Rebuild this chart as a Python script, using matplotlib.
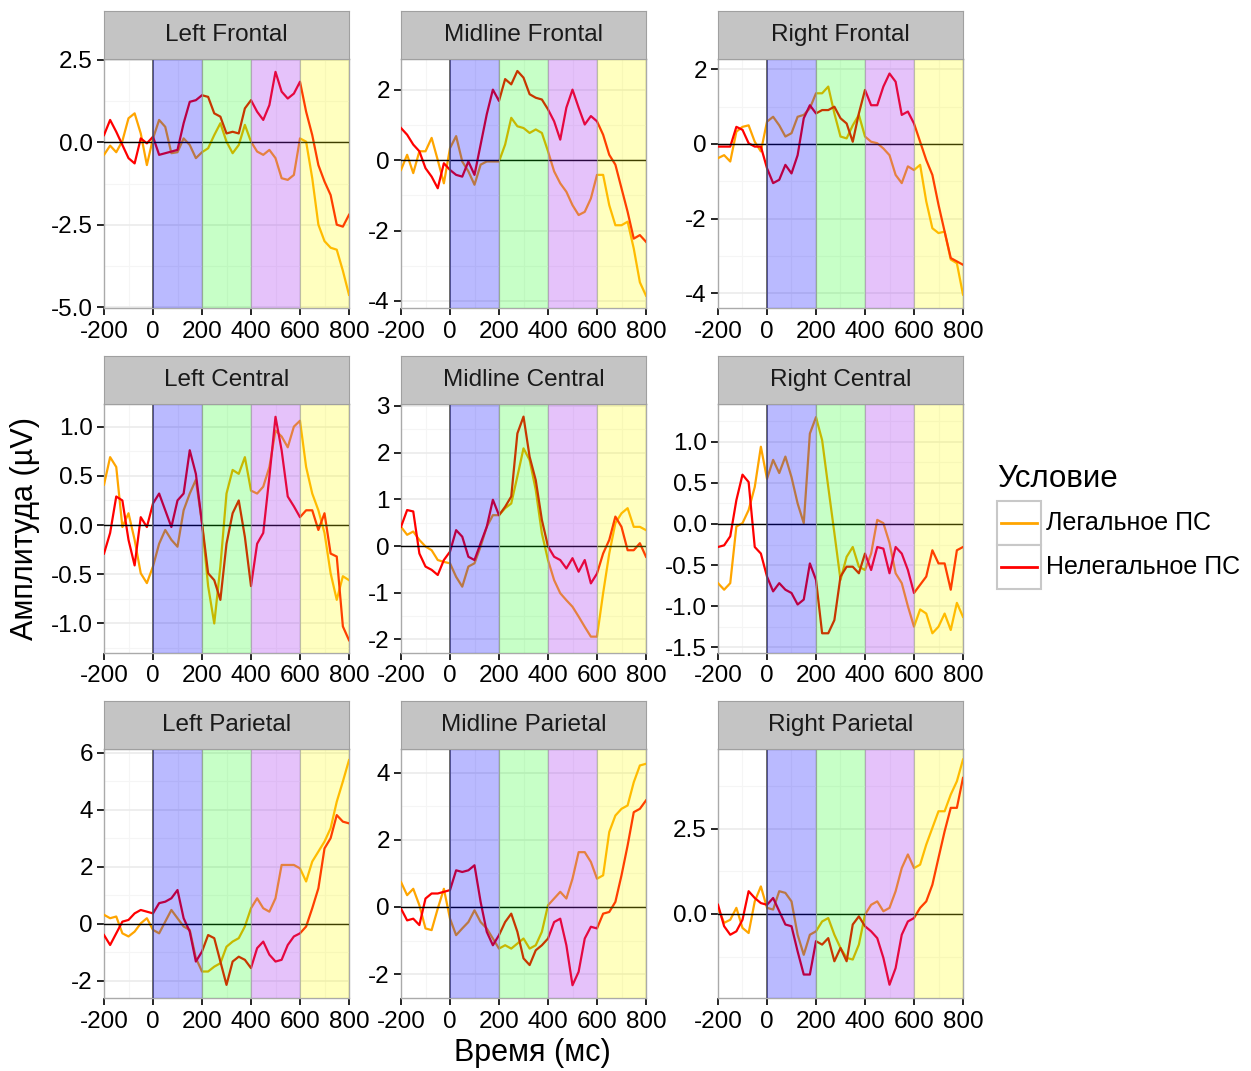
import numpy as np
import matplotlib
matplotlib.use('Agg')
import matplotlib.pyplot as plt
from matplotlib.patches import Rectangle
from matplotlib.lines import Line2D
from matplotlib.ticker import MultipleLocator, FormatStrFormatter

plt.rcParams['font.family'] = ['Liberation Sans', 'DejaVu Sans']
plt.rcParams['axes.unicode_minus'] = False

# время, мс
t = np.arange(-200, 801, 25)

titles = ['Left Frontal', 'Midline Frontal', 'Right Frontal',
          'Left Central', 'Midline Central', 'Right Central',
          'Left Parietal', 'Midline Parietal', 'Right Parietal']

legal = [
    [-0.38, -0.1, -0.3, 0.04, 0.73, 0.88, 0.27, -0.69, 0.12, 0.68, 0.47, -0.33, -0.3, 0.12, -0.08, -0.48, -0.3,
     -0.18, 0.22, 0.58, 0.02, -0.33, -0.08, 0.53, 0.02, -0.28, -0.38, -0.23, -0.48, -1.09, -1.14, -0.99, 0.12,
     0.02, -1.09, -2.5, -3.0, -3.2, -3.26, -3.9, -4.63],
    [-0.28, 0.15, -0.37, 0.25, 0.25, 0.63, 0.0, -0.66, 0.34, 0.68, -0.04, -0.32, -0.7, -0.13, -0.04, -0.04, -0.04,
     0.44, 1.2, 0.96, 0.91, 0.77, 0.87, 0.77, 0.25, -0.32, -0.66, -0.9, -1.28, -1.56, -1.47, -1.09, -0.42,
     -0.42, -1.28, -1.85, -1.85, -1.75, -2.51, -3.47, -3.85],
    [-0.38, -0.3, -0.47, 0.33, 0.46, 0.5, 0.06, -0.2, 0.6, 0.73, 0.5, 0.2, 0.29, 0.73, 0.78, 0.96, 1.36,
     1.36, 1.54, 0.82, 0.2, 0.15, 0.5, 0.78, 0.2, 0.06, 0.02, -0.12, -0.3, -0.83, -1.05, -0.6, -0.7,
     -0.56, -1.54, -2.26, -2.39, -2.35, -3.1, -3.2, -4.04],
    [0.41, 0.69, 0.59, -0.02, 0.12, -0.15, -0.49, -0.59, -0.42, -0.19, -0.05, -0.15, -0.22, 0.15, 0.32, 0.46, 0.02,
     -0.62, -1.0, -0.42, 0.32, 0.56, 0.52, 0.69, 0.35, 0.32, 0.39, 0.59, 0.96, 0.9, 0.79, 1.0, 1.06,
     0.59, 0.32, 0.15, -0.08, -0.49, -0.76, -0.52, -0.56],
    [0.41, 0.24, 0.31, 0.13, -0.01, -0.09, -0.3, -0.34, -0.37, -0.66, -0.87, -0.44, -0.37, -0.01, 0.41, 0.66, 0.66,
     0.81, 0.91, 1.49, 2.09, 1.84, 1.2, 0.27, -0.3, -0.73, -1.01, -1.16, -1.3, -1.51, -1.73, -1.94, -1.94,
     -1.01, -0.16, 0.49, 0.7, 0.81, 0.41, 0.41, 0.34],
    [-0.72, -0.8, -0.72, -0.03, 0.01, 0.17, 0.45, 0.94, 0.55, 0.78, 0.62, 0.82, 0.57, 0.25, 0.01, 1.1, 1.3,
     1.02, 0.45, -0.11, -0.68, -0.4, -0.28, -0.52, -0.56, -0.36, 0.05, 0.01, -0.23, -0.6, -0.72, -1.0, -1.25,
     -1.04, -1.09, -1.33, -1.25, -1.09, -1.29, -0.96, -1.13],
    [0.32, 0.2, 0.26, -0.33, -0.44, -0.27, 0.02, 0.2, -0.21, -0.33, 0.08, 0.49, 0.2, -0.09, -0.21, -1.2, -1.67,
     -1.67, -1.5, -1.38, -0.8, -0.62, -0.5, -0.09, 0.55, 0.9, 0.55, 0.43, 0.9, 2.07, 2.07, 2.07, 1.95,
     1.49, 2.19, 2.54, 2.89, 3.36, 4.29, 5.0, 5.75],
    [0.74, 0.35, 0.54, 0.05, -0.64, -0.69, -0.05, 0.54, -0.35, -0.84, -0.64, -0.45, -0.1, -0.45, -0.64, -0.94, -1.24,
     -1.14, -1.24, -1.09, -0.94, -1.24, -1.14, -0.74, 0.05, 0.25, 0.45, 0.25, 0.84, 1.63, 1.63, 1.34, 0.84,
     0.94, 2.23, 2.72, 2.92, 3.02, 3.71, 4.21, 4.26],
    [0.18, -0.26, -0.17, 0.18, -0.41, -0.56, 0.37, 0.81, 0.18, 0.13, 0.67, 0.62, 0.37, -0.61, -1.2, -0.61, -0.51,
     -0.22, -0.12, -0.61, -1.0, -1.29, -1.34, -0.9, -0.02, 0.27, 0.37, 0.08, 0.18, 0.67, 1.35, 1.75, 1.35,
     1.45, 2.04, 2.53, 3.02, 3.02, 3.51, 3.9, 4.54],
]

illegal = [
    [0.22, 0.68, 0.32, -0.08, -0.48, -0.64, 0.12, -0.03, 0.17, -0.38, -0.33, -0.28, -0.23, 0.58, 1.23, 1.28, 1.43,
     1.38, 0.88, 0.78, 0.27, 0.32, 0.27, 1.03, 1.28, 0.93, 0.68, 1.13, 2.14, 1.54, 1.33, 1.48, 1.84,
     0.93, 0.22, -0.69, -1.19, -1.6, -2.5, -2.56, -2.2],
    [0.91, 0.72, 0.44, 0.25, -0.23, -0.47, -0.8, -0.09, -0.28, -0.42, -0.47, -0.04, -0.42, 0.44, 1.3, 2.0, 1.68,
     2.3, 2.15, 2.53, 2.34, 1.87, 1.77, 1.72, 1.44, 1.1, 0.58, 1.49, 2.0, 1.49, 1.01, 1.25, 1.1,
     0.72, 0.15, -0.13, -0.8, -1.47, -2.23, -2.13, -2.32],
    [-0.07, -0.07, -0.07, 0.46, 0.38, 0.02, -0.07, -0.07, -0.65, -1.05, -0.96, -0.56, -0.79, -0.3, 0.69, 1.04, 0.82,
     0.91, 0.91, 1.0, 0.69, 0.55, 0.06, 0.82, 1.45, 1.04, 1.04, 1.54, 1.89, 1.67, 0.78, 0.87, 0.55,
     0.06, -0.43, -0.83, -1.63, -2.35, -3.06, -3.15, -3.24],
    [-0.29, -0.08, 0.29, 0.25, -0.15, -0.41, 0.08, -0.02, 0.22, 0.32, 0.15, -0.02, 0.25, 0.32, 0.76, 0.52, 0.02,
     -0.49, -0.56, -0.76, -0.19, 0.12, 0.25, -0.12, -0.62, -0.19, -0.08, 0.49, 1.1, 0.76, 0.29, 0.19, 0.08,
     0.15, 0.15, -0.05, 0.12, -0.29, -0.32, -1.03, -1.17],
    [0.41, 0.77, 0.74, -0.16, -0.44, -0.51, -0.62, -0.3, -0.12, 0.34, 0.2, -0.23, -0.3, 0.06, 0.41, 0.99, 0.66,
     0.84, 1.06, 2.41, 2.77, 1.91, 1.41, 0.56, -0.01, -0.23, -0.3, -0.48, -0.26, -0.55, -0.3, -0.8, -0.59,
     -0.16, 0.13, 0.63, 0.41, -0.09, -0.09, 0.06, -0.23],
    [-0.28, -0.26, -0.15, 0.29, 0.6, 0.51, -0.28, -0.36, -0.64, -0.82, -0.72, -0.8, -0.84, -0.98, -0.92, -0.48, -0.68,
     -1.33, -1.33, -1.17, -0.64, -0.52, -0.52, -0.6, -0.36, -0.56, -0.28, -0.3, -0.6, -0.28, -0.36, -0.56, -0.84,
     -0.74, -0.64, -0.32, -0.48, -0.48, -0.8, -0.32, -0.28],
    [-0.39, -0.74, -0.33, 0.08, 0.14, 0.37, 0.49, 0.43, 0.37, 0.73, 0.78, 0.9, 1.19, 0.2, -0.27, -1.32, -0.97,
     -0.39, -0.5, -1.32, -2.14, -1.32, -1.15, -1.26, -1.55, -0.85, -0.62, -1.08, -1.32, -1.26, -0.74, -0.44, -0.33,
     -0.09, 0.55, 1.25, 2.65, 3.01, 3.82, 3.59, 3.53],
    [-0.05, -0.4, -0.35, -0.54, 0.25, 0.4, 0.4, 0.45, 0.5, 1.09, 1.04, 1.09, 1.24, 0.15, -0.74, -1.14, -0.84,
     -0.45, -0.2, -0.74, -1.53, -1.73, -1.29, -1.14, -0.94, -0.45, -0.35, -1.14, -2.33, -1.93, -0.94, -0.59, -0.64,
     -0.2, -0.15, 0.15, 0.94, 1.83, 2.82, 2.92, 3.17],
    [0.27, -0.36, -0.61, -0.51, -0.17, 0.67, 0.47, 0.32, 0.27, 0.47, 0.08, -0.31, -0.36, -1.1, -1.78, -1.78, -0.8,
     -0.9, -0.71, -1.39, -1.0, -1.39, -0.31, -0.07, -0.36, -0.51, -0.71, -1.29, -2.08, -1.59, -0.61, -0.22, -0.12,
     0.18, 0.37, 0.86, 1.65, 2.43, 3.12, 3.12, 4.0],
]

ylims = [(-5.03, 2.53), (-4.2, 2.87), (-4.4, 2.28),
         (-1.3, 1.23), (-2.29, 3.04), (-1.57, 1.46),
         (-2.6, 6.14), (-2.71, 4.7), (-2.47, 4.85)]
ysteps = [2.5, 2, 2, 0.5, 1, 0.5, 2, 2, 2.5]
yfmt = ['%.1f', '%g', '%g', '%.1f', '%g', '%.1f', '%g', '%g', '%.1f']

bands = [(0, 200, '#0000ff', 0.27), (200, 400, '#00ff00', 0.22),
         (400, 600, '#a020f0', 0.27), (600, 800, '#ffff00', 0.25)]

W, H = 1251, 1071
fig = plt.figure(figsize=(W / 100, H / 100), dpi=100)

cols = [104, 401, 718]
rows = [59, 404, 749]
pw, ph, sh = 245, 249, 48

for k in range(9):
    x0 = cols[k % 3]
    y0 = rows[k // 3]
    ax = fig.add_axes([x0 / W, 1 - (y0 + ph) / H, pw / W, ph / H])
    ax.plot(t, legal[k], color='#ffa500', lw=1.6, zorder=3)
    ax.plot(t, illegal[k], color='#ff0000', lw=1.6, zorder=3)
    ax.axhline(0, color='black', lw=1, zorder=4)
    ax.axvline(0, color='#555555', lw=1.2, zorder=4)
    for a, b, c, al in bands:
        ax.add_patch(Rectangle((a, -100), b - a, 200, facecolor=c, alpha=al,
                               edgecolor='none', zorder=5))
        ax.axvline(a if a > 0 else b, color='#999999', lw=0.8, alpha=0.6, zorder=5)
    ax.set_xlim(-200, 800)
    ax.set_ylim(*ylims[k])
    ax.set_xticks([-200, 0, 200, 400, 600, 800])
    ax.xaxis.set_minor_locator(MultipleLocator(100))
    ax.yaxis.set_major_locator(MultipleLocator(ysteps[k]))
    ax.yaxis.set_minor_locator(MultipleLocator(ysteps[k] / 2))
    ax.yaxis.set_major_formatter(FormatStrFormatter(yfmt[k]))
    ax.grid(True, which='major', color='#ebebeb', lw=1.2, zorder=0)
    ax.grid(True, which='minor', color='#f5f5f5', lw=0.8, zorder=0)
    ax.set_axisbelow(True)
    ax.tick_params(which='major', length=5, width=1.2, labelsize=17.5, color='black', pad=3)
    ax.tick_params(axis='x', which='major', pad=4)
    ax.tick_params(which='minor', length=0)
    for s in ax.spines.values():
        s.set_color('#aaaaaa')
        s.set_linewidth(1)
    # strip
    sax = fig.add_axes([x0 / W, 1 - y0 / H, pw / W, sh / H])
    sax.set_facecolor('#c4c4c4')
    sax.set_xticks([])
    sax.set_yticks([])
    for s in sax.spines.values():
        s.set_color('#a0a0a0')
    sax.text(0.5, 0.5, titles[k], ha='center', va='center', fontsize=17.5, color='#1a1a1a',
             transform=sax.transAxes)

fig.text(532 / W, 1 - 1053 / H, 'Время (мс)', ha='center', va='center', fontsize=22)
fig.text(25 / W, 1 - 528 / H, 'Амплитуда (µV)', ha='center', va='center', fontsize=22, rotation=90)

# легенда
fig.text(997 / W, 1 - 479 / H, 'Условие', ha='left', va='center', fontsize=22.5)
labels = ['Легальное ПС', 'Нелегальное ПС']
colors = ['#ffa500', '#ff0000']
for i in range(2):
    ky = 501 + i * 44
    fig.patches.append(Rectangle((997 / W, 1 - (ky + 44) / H), 44 / W, 44 / H,
                                 transform=fig.transFigure, facecolor='white',
                                 edgecolor='#c8c8c8', lw=1.5))
    fig.lines.append(Line2D([1001 / W, 1037 / W], [1 - (ky + 22) / H] * 2,
                            transform=fig.transFigure, color=colors[i], lw=2))
    fig.text(1046 / W, 1 - (ky + 22) / H, labels[i], ha='left', va='center', fontsize=18)

fig.savefig('out.png', dpi=100)
